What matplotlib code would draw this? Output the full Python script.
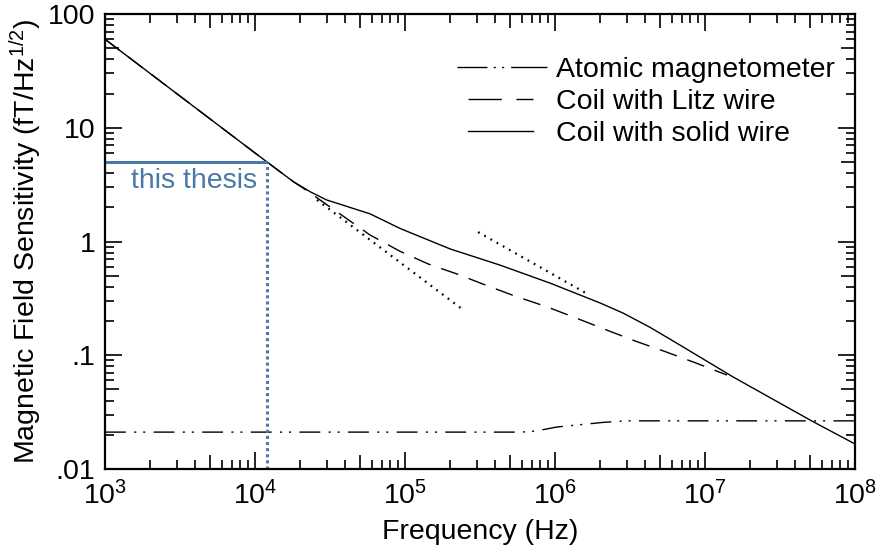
import matplotlib
matplotlib.use("Agg")
import matplotlib.pyplot as plt
import numpy as np
from matplotlib.ticker import LogLocator, NullFormatter, FixedLocator, FixedFormatter

# values (frequency in Hz, sensitivity in fT/Hz^1/2)
solid_f = [1e3, 1e4, 1.8e4, 2.33e4, 3e4, 5.85e4, 9.3e4, 2e5, 4.3e5, 9.3e5, 2e6,
           2.84e6, 4.3e6, 6.8e6, 1.54e7, 5.16e7, 1e8]
solid_b = [60, 6.0, 3.36, 2.74, 2.32, 1.75, 1.30, 0.86, 0.62, 0.43, 0.288,
           0.235, 0.176, 0.123, 0.0644, 0.0264, 0.0166]

litz_f = [1e3, 1e4, 1.8e4, 2.1e4, 5.85e4, 9.27e4, 1.43e5, 2.26e5, 3.54e5, 5.56e5,
          8.8e5, 1.4e6, 2.2e6, 3.5e6, 5.5e6, 8.8e6, 1.4e7]
litz_b = [60, 6.0, 3.36, 2.94, 1.14, 0.82, 0.634, 0.514, 0.408, 0.327,
          0.267, 0.211, 0.167, 0.132, 0.107, 0.085, 0.067]

atom_f = [1e3, 6e5, 7.5e5, 1.03e6, 2.1e6, 3e6, 1e8]
atom_b = [0.0211, 0.0211, 0.0216, 0.0234, 0.0257, 0.0265, 0.0265]

dot1_f = [2.59e4, 2.4e5]
dot1_b = [2.32, 0.255]
dot2_f = [3.07e5, 1.69e6]
dot2_b = [1.21, 0.339]

thesis_f = 1.2e4
thesis_b = 5.0

ytick_vals = [0.01, 0.1, 1, 10, 100]
ytick_labels = [".01", ".1", "1", "10", "100"]

plt.rcParams['font.family'] = ['Liberation Sans', 'DejaVu Sans']
plt.rcParams['mathtext.fontset'] = 'custom'
plt.rcParams['mathtext.rm'] = 'Liberation Sans'
plt.rcParams['mathtext.it'] = 'Liberation Sans:italic'

FS = 20.5
blue = '#4a78a8'

fig = plt.figure(figsize=(8.81, 5.45), dpi=100)
ax = fig.add_axes([105 / 881, 1 - 469 / 545, 750 / 881, 455 / 545])

ax.plot(atom_f, atom_b, color='black', lw=1.0,
        linestyle=(0, (15, 6, 1.5, 5, 1.5, 6)), label='Atomic magnetometer')
ax.plot(litz_f, litz_b, color='black', lw=1.0,
        linestyle=(0, (13, 8)), label='Coil with Litz wire')
ax.plot(solid_f, solid_b, color='black', lw=1.0, label='Coil with solid wire')

ax.plot(dot1_f, dot1_b, color='black', lw=1.6, linestyle=(0, (0.8, 2.4)))
ax.plot(dot2_f, dot2_b, color='black', lw=1.6, linestyle=(0, (0.8, 2.4)))

# "this thesis" marker
ax.plot([1e3, thesis_f], [thesis_b, thesis_b], color=blue, lw=2.2,
        solid_capstyle='butt')
ax.plot([thesis_f, thesis_f], [0.01, thesis_b], color=blue, lw=2.2,
        linestyle=(0, (1, 1)))
ax.text(1.03e4, 3.4, 'this thesis', color=blue, fontsize=FS,
        ha='right', va='center')

ax.set_xscale('log')
ax.set_yscale('log')
ax.set_xlim(1e3, 1e8)
ax.set_ylim(0.01, 100)

ax.yaxis.set_major_locator(FixedLocator(ytick_vals))
ax.yaxis.set_major_formatter(FixedFormatter(ytick_labels))
for axis in (ax.xaxis, ax.yaxis):
    axis.set_minor_locator(LogLocator(base=10, subs=np.arange(2, 10), numticks=50))
    axis.set_minor_formatter(NullFormatter())

ax.tick_params(which='both', direction='in', top=True, right=True,
               labelsize=FS, width=1.2, color='black')
ax.tick_params(which='major', length=12.5, pad=7)
ax.tick_params(which='minor', length=6.5)
ax.tick_params(axis='x', which='major', pad=9)

for sp in ax.spines.values():
    sp.set_linewidth(1.6)

ax.set_xlabel('Frequency (Hz)', fontsize=FS, labelpad=6)
ax.set_ylabel('Magnetic Field Sensitivity (fT/Hz$^{1/2}$)', fontsize=FS, labelpad=3)

leg = ax.legend(loc='upper right', bbox_to_anchor=(0.9725, 0.905), frameon=False,
                fontsize=FS, handlelength=3.16, handletextpad=0.316,
                labelspacing=0.21, borderpad=0, borderaxespad=0)
# legend keys drawn like the original: "— · · —", a short "— —" and a short solid
hl = leg.get_lines()
hl[0].set_linestyle((0, (21.6, 4.5, 1.5, 4.5, 1.5, 5, 30, 5)))
for line in hl[1:]:
    n = len(line.get_ydata())
    line.set_xdata(np.linspace(8.6, 54.7, n))
hl[1].set_linestyle((0, (24, 10.5)))

# the ticks at 5 x 10^n are a bit longer than the other minor ticks
for axis in (ax.xaxis, ax.yaxis):
    locs = axis.get_minorticklocs()
    ticks = axis.get_minor_ticks(len(locs))
    for loc, t in zip(locs, ticks):
        mant = loc / 10 ** np.floor(np.log10(loc) + 1e-9)
        if abs(mant - 5) < 0.01:
            t.tick1line.set_markersize(10)
            t.tick2line.set_markersize(10)

fig.savefig('out.png', dpi=100)
